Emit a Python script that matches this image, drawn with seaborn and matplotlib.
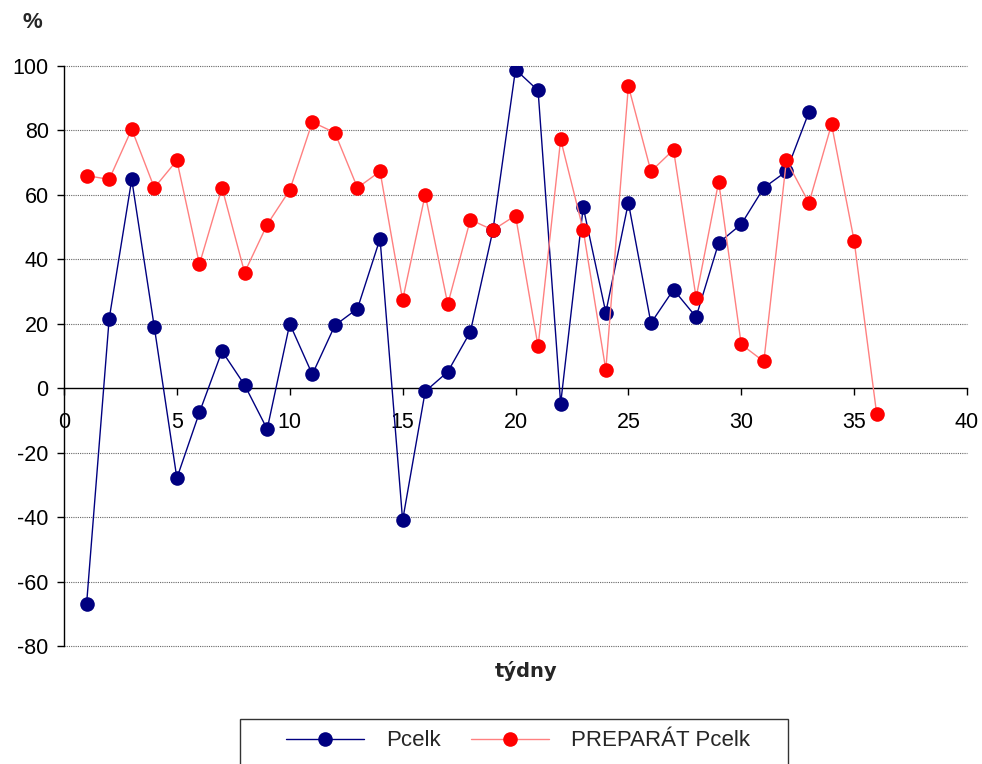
import numpy as np
import pandas as pd
import matplotlib
matplotlib.use("Agg")
import matplotlib.pyplot as plt
from matplotlib.patches import Rectangle
import seaborn as sns

# Weekly values (%)
weeks_pcelk = list(range(1, 34))
pcelk = [-67, 21.5, 64.8, 19, -27.9, -7.5, 11.5, 1, -12.7, 20,
         4.3, 19.5, 24.7, 46.4, -41, -1, 5.1, 17.5, 49, 98.9,
         92.4, -4.8, 56.2, 23.5, 57.6, 20.2, 30.6, 22.1, 45.1, 50.9,
         62.2, 67.3, 85.7]

weeks_prep = list(range(1, 37))
preparat = [66, 64.8, 80.4, 62.2, 70.7, 38.5, 62.2, 35.9, 50.8, 61.5,
            82.6, 79.3, 62.2, 67.3, 27.4, 60.1, 26.1, 52.3, 49.1, 53.6,
            13, 77.2, 49.1, 5.7, 93.8, 67.3, 74, 28.1, 64.1, 13.6,
            8.3, 70.7, 57.5, 81.9, 45.8, -8]

x_ticks = [0, 5, 10, 15, 20, 25, 30, 35, 40]
y_ticks = [-80, -60, -40, -20, 0, 20, 40, 60, 80, 100]

df_a = pd.DataFrame({"týdny": weeks_pcelk, "hodnota": pcelk})
df_b = pd.DataFrame({"týdny": weeks_prep, "hodnota": preparat})

sns.set_theme(style="white")
plt.rcParams["font.family"] = ["Liberation Sans", "DejaVu Sans"]
plt.rcParams["axes.unicode_minus"] = False

W, H = 982, 764
fig = plt.figure(figsize=(W / 100, H / 100), dpi=100)
ax = fig.add_axes([64 / W, 1 - 646 / H, (967 - 64) / W, (646 - 66) / H])

# horizontal dotted grid
for yv in y_ticks:
    if yv != 0:
        ax.axhline(yv, color="#666666", linewidth=0.8, linestyle=(0, (1, 1)),
                   zorder=1, clip_on=False)

sns.lineplot(data=df_a, x="týdny", y="hodnota", ax=ax, color="#000080",
             linewidth=1.0, marker="o", markersize=10.5, markeredgewidth=0,
             markerfacecolor="#000080", label="Pcelk", zorder=3)
sns.lineplot(data=df_b, x="týdny", y="hodnota", ax=ax, color="#ff8080",
             linewidth=1.0, marker="o", markersize=10.5, markeredgewidth=0,
             markerfacecolor="#ff0000", label="PREPARÁT Pcelk", zorder=4)

ax.set_xlim(0, 40)
ax.set_ylim(-80, 100)
ax.set_xticks(x_ticks)
ax.set_yticks(y_ticks)
ax.set_xlabel("")
ax.set_ylabel("")

for side in ["top", "right"]:
    ax.spines[side].set_visible(False)
ax.spines["bottom"].set_position(("data", 0))
for side in ["bottom", "left"]:
    ax.spines[side].set_color("black")
    ax.spines[side].set_linewidth(1.0)

ax.tick_params(axis="x", direction="out", length=5, width=1, color="black",
               labelsize=15.5, labelcolor="black", pad=12, bottom=True)
ax.tick_params(axis="y", direction="out", length=5, width=1, color="black",
               labelsize=15.5, labelcolor="black", pad=6, left=True)

fig.text(32 / W, 1 - 23 / H, "%", fontsize=16, fontweight="bold",
         ha="center", va="center")
fig.text(526 / W, 1 - 671 / H, "týdny", fontsize=14, fontweight="bold",
         family="DejaVu Sans", ha="center", va="center")

leg = ax.legend(loc="center", bbox_to_anchor=(518 / W, 1 - 741 / H),
                bbox_transform=fig.transFigure, ncol=2, frameon=False,
                fontsize=16, handlelength=3.5, columnspacing=1.35,
                handletextpad=1.0, borderpad=0, borderaxespad=0)

fig.patches.append(Rectangle((240 / W, -0.01), (788 - 240) / W, (H - 719) / H + 0.01,
                             transform=fig.transFigure, fill=False,
                             edgecolor="#333333", linewidth=1.0))

fig.savefig("out.png", dpi=100)
